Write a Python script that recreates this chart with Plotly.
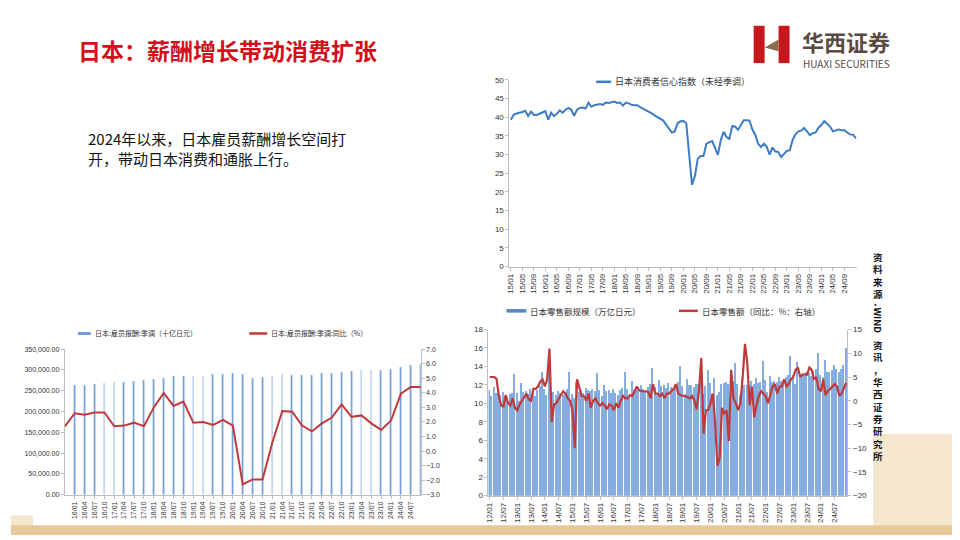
import plotly.graph_objects as go

# ---- data: consumer confidence (monthly, 2015/01 - 2025/01)
conf = [39.3, 40.7, 41.0, 41.1, 41.4, 41.7, 40.3, 41.5, 40.6, 40.6, 41.0, 41.4,
        41.6, 39.3, 41.2, 40.3, 40.9, 41.8, 41.2, 42.0, 42.5, 42.0, 40.4, 42.0,
        42.5, 42.6, 42.3, 43.9, 42.8, 43.2, 43.3, 43.5, 43.3, 43.9, 43.8, 43.9,
        44.2, 43.8, 43.9, 43.1, 43.9, 43.7, 43.3, 43.2, 43.2, 42.7, 42.3, 42.0,
        41.6, 41.0, 40.5, 40.1, 39.6, 39.1, 38.0, 37.1, 35.9, 36.2, 38.4, 38.9,
        39.0, 38.4, 30.9, 21.9, 24.2, 28.9, 29.6, 29.6, 32.9, 33.3, 33.6, 31.8,
        29.9, 33.8, 36.1, 34.7, 34.2, 37.6, 37.5, 36.6, 38.1, 39.2, 39.2, 39.1,
        36.7, 35.3, 32.9, 32.0, 32.9, 32.1, 30.0, 31.9, 30.8, 30.7, 29.3, 30.3,
        31.0, 31.1, 33.9, 35.4, 36.2, 36.4, 37.1, 36.2, 35.2, 35.7, 35.9, 37.2,
        37.9, 39.0, 38.3, 37.5, 36.2, 36.4, 36.7, 36.5, 36.5, 35.9, 35.4, 35.3,
        34.3]
conf_x = ["%02d/%02d" % (15 + i // 12, i % 12 + 1) for i in range(len(conf))]
conf_ticks = conf_x[:-1:4]

# ---- data: employee compensation (quarterly)
comp_q = ["15/10", "16/01", "16/04", "16/07", "16/10", "17/01", "17/04", "17/07", "17/10",
          "18/01", "18/04", "18/07", "18/10", "19/01", "19/04", "19/07", "19/10",
          "20/01", "20/04", "20/07", "20/10", "21/01", "21/04", "21/07", "21/10",
          "22/01", "22/04", "22/07", "22/10", "23/01", "23/04", "23/07", "23/10",
          "24/01", "24/04", "24/07", "24/10"]
comp_lvl = [None, 264000, 264000, 266000, 268000, 270000, 270000, 273000, 276000,
            278000, 281000, 284000, 285000, 286000, 286000, 291000, 291000,
            293000, 291000, 281000, 282000, 285000, 289000, 287000, 287000,
            287000, 292000, 292000, 294000, 296000, 300000, 300000, 300000,
            303000, 307000, 312000, 315000]
comp_yoy = [1.7, 2.6, 2.5, 2.65, 2.65, 1.7, 1.75, 1.95, 1.7, 3.0, 4.0, 3.1, 3.4,
            1.95, 2.0, 1.8, 2.15, 1.75, -2.3, -1.95, -1.95, 0.6, 2.75, 2.7, 1.75,
            1.35, 1.9, 2.3, 3.2, 2.35, 2.45, 1.9, 1.45, 2.1, 3.95, 4.4, 4.4]
comp_yoy = comp_yoy[:len(comp_q)]
comp_ticks = comp_q[1:-1]

# ---- data: retail sales (monthly, 2012/01 - 2024/12)
retail_lvl = [11.5, 10.8, 11.8, 11.2, 11.4, 11.0, 11.3, 10.9, 10.6, 11.1, 11.2, 13.2,
              11.2, 10.3, 12.3, 11.3, 11.4, 11.1, 11.6, 11.3, 10.9, 11.5, 11.9, 13.5,
              11.6, 11.0, 14.0, 10.8, 11.3, 11.0, 11.4, 11.2, 11.0, 11.3, 11.6, 13.5,
              11.1, 10.6, 12.4, 11.3, 11.5, 11.2, 11.7, 11.5, 11.4, 11.6, 11.4, 13.3,
              11.5, 10.8, 12.0, 11.4, 11.5, 11.2, 11.6, 11.2, 11.0, 11.5, 11.7, 13.4,
              11.6, 10.9, 12.5, 11.5, 11.8, 11.5, 12.0, 11.6, 11.4, 11.8, 12.2, 13.9,
              11.8, 11.0, 12.6, 11.9, 12.0, 11.7, 12.3, 11.8, 11.6, 12.0, 12.4, 14.1,
              11.9, 11.1, 12.7, 12.0, 12.0, 11.8, 12.1, 12.1, 13.7, 11.1, 11.9, 13.7,
              12.3, 11.1, 12.8, 11.0, 11.3, 12.2, 12.3, 12.4, 12.1, 12.5, 12.5, 14.4,
              12.2, 11.0, 12.7, 12.0, 12.0, 12.0, 12.5, 12.2, 12.8, 12.3, 12.4, 14.6,
              12.6, 11.3, 13.0, 12.4, 12.5, 12.4, 12.9, 12.5, 12.4, 12.9, 13.1, 15.2,
              13.1, 12.2, 14.5, 13.0, 13.1, 13.0, 13.4, 13.3, 13.0, 13.6, 13.8, 15.5,
              13.1, 12.9, 14.7, 13.5, 13.5, 13.7, 14.2, 13.8, 13.5, 13.8, 14.2, 16.1]
retail_yoy = [5.0, 5.0, 5.0, 4.6, 1.0, -1.0, -1.2, 1.2, -0.5, -1.0, 0.5, -1.5,
              -2.0, -0.8, 0.0, 0.5, 1.5, 0.3, 0.0, 2.5, 2.5, 3.0, 4.0, 4.5,
              3.0, 4.5, 11.0, -4.5, -0.8, -0.5, 0.5, 1.2, 2.0, 1.5, 0.5, 0.0,
              -2.0, -10.0, 4.5, 2.5, 1.0, 1.0, 0.0, 1.5, -1.5, 0.0, 0.5, -0.5,
              -1.0, -0.5, -1.0, -1.8, -0.8, -1.0, -2.0, -0.5, -1.5, 0.0, 1.0, 0.5,
              0.5, 1.2, 1.0, 2.0, 3.0, 2.2, 2.0, 2.0, 2.0, 1.8, 0.5, 3.5,
              1.5, 1.5, 1.0, 1.5, 0.5, 1.5, 1.5, 2.0, 2.5, 3.5, 1.5, 1.2,
              1.0, 1.0, 0.8, 0.5, 1.0, 0.0, -1.8, 2.0, 9.0, -7.0, -2.0, -2.0,
              -0.5, 1.5, -4.5, -13.7, -12.0, -1.5, -2.8, -2.0, -8.5, 6.5, 0.5, -0.5,
              -2.0, -0.5, 5.0, 12.0, 8.0, -1.0, 3.0, -3.5, -1.0, 1.0, 2.0, 1.5,
              1.0, -0.5, 1.0, 3.0, 3.5, 1.5, 3.0, 3.0, 4.5, 3.0, 3.5, 4.5,
              5.0, 6.5, 7.0, 5.0, 5.5, 5.5, 5.5, 7.0, 6.5, 4.5, 5.0, 2.5,
              2.0, 4.5, 1.2, 2.0, 2.5, 3.0, 3.5, 3.0, 1.0, 1.5, 2.5, 3.8]
retail_x = ["%02d/%02d" % (12 + i // 12, i % 12 + 1) for i in range(len(retail_lvl))]

RED = "#c0393b"
GRID = "#bfbfbf"
tickf = dict(size=8, color="#333", family="Liberation Sans")

# the page body has an 8px margin, so the figure is drawn 8px smaller and
# everything is placed in screen pixels through these helpers
OFF = 8
W, H = 960 - OFF, 540 - OFF


def px(x):
    return (x - OFF) / W


def py(y):
    return 1 - (y - OFF) / H


def xdom(x0, x1):
    return [px(x0), px(x1)]


def ydom(top, bottom):
    return [py(bottom), py(top)]


fig = go.Figure()

# chart 1
fig.add_trace(go.Scatter(x=conf_x, y=conf, mode="lines", line=dict(color="#3c7cc4", width=2),
                         xaxis="x", yaxis="y"))
# chart 2
fig.add_trace(go.Bar(x=comp_q, y=comp_lvl, marker_color="#6f9fd8", width=0.18,
                     xaxis="x2", yaxis="y2"))
fig.add_trace(go.Scatter(x=comp_q, y=comp_yoy, mode="lines", line=dict(color=RED, width=2),
                         xaxis="x2", yaxis="y3"))
# chart 3
fig.add_trace(go.Bar(x=retail_x, y=retail_lvl, marker_color="#86addf", marker_line_width=0,
                     width=0.6, xaxis="x3", yaxis="y4"))
fig.add_trace(go.Scatter(x=retail_x, y=retail_yoy, mode="lines", line=dict(color=RED, width=2.2),
                         xaxis="x3", yaxis="y5"))

ax = dict(showgrid=False, showline=True, linecolor=GRID, ticks="outside", ticklen=3,
          tickcolor=GRID, tickfont=tickf, zeroline=False)

fig.update_layout(
    width=W, height=H, margin=dict(l=0, r=0, t=0, b=0),
    paper_bgcolor="white", plot_bgcolor="white", showlegend=False, bargap=0,
    font=dict(family="Noto Sans CJK SC"),
    xaxis=dict(ax, domain=xdom(508, 857), anchor="y", type="category",
               tickvals=conf_ticks, tickangle=-90, range=[-0.5, len(conf) - 0.5]),
    yaxis=dict(ax, domain=ydom(77, 267), anchor="x", range=[0, 50], dtick=5),
    xaxis2=dict(ax, domain=xdom(62, 419), anchor="y2", type="category",
                tickvals=comp_ticks, tickangle=-90, tickfont=dict(tickf, size=7),
                range=[0, len(comp_q) - 1]),
    yaxis2=dict(ax, domain=ydom(351, 499), anchor="x2", range=[0, 350000], dtick=50000,
                tickformat=",.2f", tickfont=dict(tickf, size=7)),
    yaxis3=dict(ax, overlaying="y2", side="right", anchor="x2", range=[-3, 7], dtick=1,
                tickformat=".1f", tickfont=dict(tickf, size=7)),
    xaxis3=dict(ax, domain=xdom(487, 847), anchor="y4", type="category",
                tickvals=retail_x[::6], tickangle=-90, range=[-0.5, len(retail_x) - 0.5]),
    yaxis4=dict(ax, domain=ydom(331, 500), anchor="x3", range=[0, 18], dtick=2),
    yaxis5=dict(ax, overlaying="y4", side="right", anchor="x3", range=[-20, 15], dtick=5),
)


def px_rect(x0, y0, x1, y1, color, layer="above"):
    return dict(type="rect", xref="paper", yref="paper", x0=px(x0), x1=px(x1),
                y0=py(y1), y1=py(y0), fillcolor=color, line_width=0, layer=layer)


def px_line(x0, x1, y, color, w):
    return dict(type="line", xref="paper", yref="paper", x0=px(x0), x1=px(x1),
                y0=py(y), y1=py(y), line=dict(color=color, width=w))


shapes = [
    # background decoration
    px_rect(873, 437, 960, 540, "#f4e6cf", "below"),
    px_rect(8, 520, 30, 540, "#f4e6cf", "below"),
    px_rect(8, 530, 960, 540, "#e8c898", "below"),
    # logo
    px_rect(753, 22, 764, 60, "#c8161d"),
    px_rect(778, 22, 789, 60, "#c8161d"),
    dict(type="path", xref="paper", yref="paper",
         path="M %f %f L %f %f L %f %f Z" % (px(764), py(44), px(778), py(36), px(778), py(48)),
         fillcolor="#8a6a4a", line_width=0),
    # legends
    px_line(595, 610, 79, "#3c7cc4", 2.5),
    px_line(75, 88, 335, "#6f9fd8", 3),
    px_line(247, 265, 335, RED, 2.5),
    px_line(505, 525, 312, "#4f86c6", 3.5),
    px_line(678, 697, 312, RED, 2.5),
]
fig.update_layout(shapes=shapes)


def note(x, y, text, size=8, color="#333", xanchor="left", yanchor="middle", **kw):
    fig.add_annotation(x=px(x), y=py(y), xref="paper", yref="paper", text=text, showarrow=False,
                       font=dict(size=size, color=color), xanchor=xanchor, yanchor=yanchor, **kw)


note(73, 47, "<b>日本：薪酬增长带动消费扩张</b>", size=23, color="#d0101b")
note(799, 38, "<b>华西证券</b>", size=22, color="#5a4a42")
note(800, 60, "HUAXI SECURITIES", size=10, color="#5a4a42")
note(83, 147, "2024年以来，日本雇员薪酬增长空间打<br>开，带动日本消费和通胀上行。", size=15,
     color="#111", align="left")
note(612, 79, "日本消费者信心指数（未经季调）", size=9)
note(90, 335, "日本:雇员报酬:季调（十亿日元）", size=7)
note(267, 335, "日本:雇员报酬:季调:同比（%）", size=7)
note(527, 312, "日本零售额规模（万亿日元）", size=8.5)
note(699, 312, "日本零售额（同比：%：右轴）", size=8.5)

# vertical source note
note(878, 248, "<b>资<br>料<br>来<br>源<br>：</b>", size=9.5, color="#111",
     xanchor="center", yanchor="top")
note(878, 322, "<b>WIND</b>", size=9.5, color="#111", xanchor="center", textangle=90)
note(878, 338, "<b>资<br>讯<br>，<br>华<br>西<br>证<br>券<br>研<br>究<br>所</b>", size=9.5,
     color="#111", xanchor="center", yanchor="top")

fig.write_html("out.html")
